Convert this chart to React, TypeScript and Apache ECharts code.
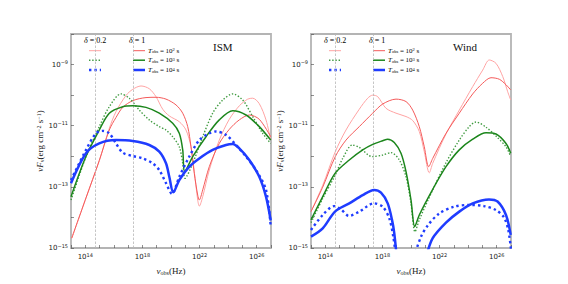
import React, { useEffect, useRef } from 'react';
import * as echarts from 'echarts';

// All values are log10 exponents: [log10(nu_obs / Hz), log10(nuF_nu / erg cm^-2 s^-1)]
const panelTitles = ['ISM', 'Wind'];
const deltaLabels = ['0.2', '1'];
const deltaLines = [14.7, 17.36];
const tobsExponents = [2, 3, 4];
const xTickLabels = [14, 18, 22, 26];
const yTickLabels = [-15, -13, -11, -9];

// ---------- ISM ----------
const ismRedD02 = [
  [13.05, -14.68], [14.05, -13.36], [14.98, -12.14], [15.68, -11.09], [16.15, -10.54], [16.85, -10.01],
  [17.32, -9.81], [17.9, -9.7], [18.48, -9.79], [18.95, -10.05], [19.42, -10.46], [19.88, -10.68],
  [20.58, -10.87], [21.05, -11.14], [21.4, -11.69], [21.63, -12.5], [21.87, -13.43], [21.98, -13.63],
  [22.22, -13.32], [22.68, -12.45], [23.38, -11.47], [24.08, -10.79], [24.78, -10.35], [25.37, -10.13],
  [25.72, -10.1], [26.18, -10.28], [26.65, -10.81], [26.98, -11.47],
];
const ismRedD1 = [
  [13.05, -14.68], [14.05, -13.36], [14.98, -12.14], [15.68, -11.14], [16.15, -10.73], [16.62, -10.4],
  [17.32, -10.18], [18.25, -10.08], [18.95, -10.07], [19.65, -10.13], [20.35, -10.32], [20.82, -10.59],
  [21.17, -11.03], [21.4, -11.69], [21.63, -12.56], [21.87, -13.27], [21.98, -13.43], [22.22, -13.1],
  [22.68, -12.34], [23.38, -11.58], [24.08, -11.12], [24.78, -10.81], [25.48, -10.65], [26.18, -10.79],
  [26.98, -11.36],
];
const ismGreenD02 = [
  [13.0, -13.43], [14.05, -12.01], [14.98, -11.03], [15.68, -10.38], [16.5, -9.96], [17.08, -10.1],
  [17.78, -10.49], [18.48, -10.81], [19.18, -11.03], [19.65, -11.14], [20.12, -11.36], [20.58, -11.69],
  [20.82, -12.23], [20.98, -12.72], [21.52, -12.23], [22.22, -11.36], [22.92, -10.59], [23.62, -10.16],
  [24.32, -9.96], [25.02, -10.16], [25.72, -10.7], [26.42, -11.25], [26.98, -11.58],
];
const ismGreenD1 = [
  [13.0, -13.32], [14.05, -12.0], [14.98, -11.14], [15.68, -10.59], [16.62, -10.38], [17.32, -10.35],
  [18.25, -10.4], [19.18, -10.59], [20.12, -10.92], [20.58, -11.25], [20.82, -11.79], [20.96, -12.5],
  [21.52, -12.01], [22.45, -11.36], [23.38, -10.81], [24.32, -10.51], [25.25, -10.65], [26.18, -11.03],
  [26.98, -11.47],
];
const ismBlueD02 = [
  [13.0, -12.78], [14.05, -11.79], [14.75, -11.25], [15.22, -11.17], [15.68, -11.25], [16.15, -11.58],
  [16.62, -11.88], [17.32, -11.99], [18.02, -12.07], [18.72, -12.23], [19.18, -12.45], [19.65, -12.88],
  [20.07, -13.23], [20.58, -12.67], [21.28, -12.01], [21.98, -11.47], [22.68, -11.25], [23.15, -11.19],
  [23.85, -11.3], [24.55, -11.63], [25.25, -12.01], [25.95, -12.45], [26.65, -13.1], [26.98, -14.3],
];
const ismBlueD1 = [
  [13.0, -12.88], [14.05, -11.9], [14.98, -11.58], [16.15, -11.47], [17.32, -11.5], [18.48, -11.63],
  [19.18, -11.85], [19.65, -12.23], [19.88, -12.67], [20.16, -13.18], [20.58, -12.78], [21.28, -12.34],
  [21.98, -12.07], [22.92, -11.79], [23.85, -11.63], [24.32, -11.6], [24.78, -11.74], [25.48, -12.12],
  [26.18, -12.67], [26.65, -13.32], [26.98, -14.1],
];

// ---------- Wind ----------
const windRedD02 = [
  [13.0, -13.81], [13.82, -12.95], [14.7, -11.85], [15.45, -11.14], [16.38, -10.46], [16.97, -10.1],
  [17.32, -10.0], [17.67, -10.05], [18.25, -10.43], [18.95, -10.59], [19.65, -10.7], [20.12, -10.83],
  [20.58, -11.19], [20.93, -11.85], [21.28, -12.54], [21.52, -12.23], [22.45, -11.27], [23.38, -10.49],
  [24.32, -9.72], [25.02, -9.18], [25.48, -8.85], [25.95, -8.96], [26.42, -9.39], [26.77, -9.89],
  [26.98, -10.16],
];
const windRedD1 = [
  [13.0, -13.81], [13.82, -13.01], [14.7, -12.01], [15.45, -11.47], [16.38, -11.03], [17.32, -10.59],
  [18.02, -10.29], [18.95, -10.13], [19.65, -10.21], [20.12, -10.49], [20.58, -11.03], [20.93, -11.69],
  [21.24, -12.34], [21.52, -12.07], [22.45, -11.25], [23.38, -10.59], [24.32, -9.96], [25.02, -9.61],
  [25.6, -9.43], [26.18, -9.48], [26.65, -9.66], [26.98, -9.83],
];
const windGreenD02 = [
  [13.0, -14.17], [13.82, -13.38], [14.7, -12.61], [15.22, -12.07], [15.89, -11.63], [16.38, -11.71],
  [17.29, -12.01], [18.02, -11.96], [18.6, -11.88], [19.18, -12.12], [19.65, -12.67], [20.0, -13.54],
  [20.28, -14.47], [20.58, -14.08], [21.52, -13.1], [22.45, -12.21], [23.38, -11.47], [24.08, -11.03],
  [24.55, -10.88], [25.25, -11.05], [25.95, -11.34], [26.65, -11.69], [26.98, -12.01],
];
const windGreenD1 = [
  [13.0, -14.08], [13.82, -13.32], [14.68, -12.56], [15.68, -12.12], [16.62, -11.79], [17.32, -11.61],
  [18.02, -11.49], [18.37, -11.44], [18.83, -11.55], [19.3, -11.9], [19.65, -12.5], [20.0, -13.43],
  [20.26, -14.3], [20.58, -13.92], [21.52, -13.08], [22.45, -12.34], [23.38, -11.79], [24.32, -11.44],
  [25.25, -11.23], [25.95, -11.27], [26.65, -11.58], [26.98, -11.9],
];
const windBlueD02 = [
  [13.0, -14.41], [13.82, -13.92], [14.61, -13.63], [15.1, -13.74], [15.66, -13.95], [16.38, -13.81],
  [17.41, -13.54], [18.02, -13.65], [18.48, -14.03], [18.76, -14.63], [18.95, -15.3], [19.6, '-'],
  [20.2, -15.3], [20.7, -14.63], [21.19, -14.25], [21.98, -13.87], [23.01, -13.65], [24.08, -13.59],
  [25.11, -13.63], [25.95, -13.76], [26.51, -14.0], [26.81, -14.41], [27.0, -15.05],
];
const windBlueD1 = [
  [13.0, -14.63], [13.82, -14.36], [14.68, -13.81], [15.68, -13.54], [16.62, -13.27], [17.41, -13.1],
  [17.9, -13.19], [18.37, -13.54], [18.67, -14.08], [18.83, -14.52], [19.0, -15.3], [20.0, '-'],
  [21.05, -15.3], [21.52, -14.68], [22.45, -14.17], [23.38, -13.81], [24.32, -13.54], [25.46, -13.41],
  [26.06, -13.48], [26.65, -13.92], [26.98, -14.57],
];

const panelData = [
  [ismRedD02, ismRedD1, ismGreenD02, ismGreenD1, ismBlueD02, ismBlueD1],
  [windRedD02, windRedD1, windGreenD02, windGreenD1, windBlueD02, windBlueD1],
];

const lineStyles = [
  { color: '#ffa3a3', width: 1, type: 'solid' },
  { color: '#f45a5a', width: 1, type: 'solid' },
  { color: '#3f9a3f', width: 1.4, type: [1.4, 1.8] },
  { color: '#1c861c', width: 1.5, type: 'solid' },
  { color: '#1f3cff', width: 2.4, type: [2.4, 3] },
  { color: '#1f3cff', width: 2.5, type: 'solid' },
];

const SERIF = 'Liberation Serif, DejaVu Serif, serif';
const SANS = 'DejaVu Sans, sans-serif';

export default function App() {
  const ref = useRef<HTMLDivElement>(null);
  useEffect(() => {
    if (!ref.current) return;
    const chart = echarts.init(ref.current, undefined, { renderer: 'svg' });
    const gridLefts = [71, 311];
    const tickRich = {
      sup: { fontSize: 5, verticalAlign: 'top', lineHeight: 6, fontFamily: SANS, color: '#222' },
    };
    const nameRich = {
      it: { fontStyle: 'italic', fontFamily: SERIF, fontSize: 9, color: '#222' },
      n: { fontFamily: SERIF, fontSize: 9, color: '#222' },
      sub: { fontStyle: 'normal', fontFamily: SERIF, fontSize: 6, verticalAlign: 'bottom', lineHeight: 7, color: '#222' },
      sup: { fontFamily: SERIF, fontSize: 6, verticalAlign: 'top', lineHeight: 7, color: '#222' },
    };

    const grids = gridLefts.map((l) => ({
      left: l, top: 34, width: 200, height: 214,
      show: true, borderColor: '#b4b4b4', borderWidth: 1.8, backgroundColor: 'transparent',
    }));
    const xAxes = gridLefts.map((_, i) => ({
      type: 'value', gridIndex: i, min: 13, max: 27, interval: 1,
      axisLine: { show: false },
      splitLine: { show: false },
      axisTick: { show: true, inside: true, length: 3, lineStyle: { color: '#444', width: 0.6 } },
      axisLabel: {
        margin: 4, fontSize: 7, fontFamily: SANS, color: '#222', lineHeight: 10,
        formatter: (v: number) => (xTickLabels.includes(Math.round(v)) ? `10{sup|${Math.round(v)}}` : ''),
        rich: tickRich,
      },
      name: '{it|ν}{sub|obs}{n|(Hz)}',
      nameLocation: 'middle', nameGap: 12,
      nameTextStyle: { rich: nameRich },
    }));
    const yAxes = gridLefts.map((_, i) => ({
      type: 'value', gridIndex: i, min: -15, max: -8, interval: 1,
      axisLine: { show: false },
      splitLine: { show: false },
      axisTick: { show: true, inside: true, length: 3, lineStyle: { color: '#444', width: 0.6 } },
      axisLabel: {
        margin: 3, fontSize: 7, fontFamily: SANS, color: '#222', lineHeight: 10,
        formatter: (v: number) => (yTickLabels.includes(Math.round(v)) ? `10{sup|−${-Math.round(v)}}` : ''),
        rich: tickRich,
      },
      name: '{it|νF}{sub|ν}{n|(erg cm}{sup|−2}{n| s}{sup|−1}{n|)}',
      nameLocation: 'middle', nameGap: 22, nameRotate: 90,
      nameTextStyle: { rich: nameRich },
    }));

    const series: any[] = [];
    panelData.forEach((curves, p) => {
      curves.forEach((data, k) => {
        const st = lineStyles[k];
        series.push({
          type: 'line', xAxisIndex: p, yAxisIndex: p, data,
          showSymbol: false, symbol: 'none', smooth: 0.3, clip: true,
          connectNulls: false, silent: true, z: 2 + k,
          lineStyle: { color: st.color, width: st.width, type: st.type },
        });
      });
      series.push({
        type: 'line', xAxisIndex: p, yAxisIndex: p, data: [], silent: true, z: 1,
        markLine: {
          silent: true, symbol: 'none', label: { show: false },
          lineStyle: { color: '#b8b8b8', width: 0.8, type: [2.5, 1.5] },
          data: deltaLines.map((x) => ({ xAxis: x })),
        },
      });
    });

    const graphics: any[] = [];
    const legendRich = {
      it: { fontStyle: 'italic', fontFamily: SERIF, fontSize: 7, color: '#222' },
      n: { fontFamily: SERIF, fontSize: 7, color: '#222' },
      sub: { fontFamily: SERIF, fontSize: 4.5, verticalAlign: 'bottom', lineHeight: 5, color: '#222' },
      sup: { fontFamily: SERIF, fontSize: 4.5, verticalAlign: 'top', lineHeight: 5, color: '#222' },
    };
    const deltaRich = {
      it: { fontStyle: 'italic', fontFamily: SERIF, fontSize: 8, color: '#222' },
      n: { fontFamily: SERIF, fontSize: 8, color: '#222' },
    };
    const rowsY = [50.7, 60.2, 70];
    [0, 1].forEach((p) => {
      const dx = p * 240;
      graphics.push({
        type: 'text', left: 84 + dx, top: 36, silent: true,
        style: { text: `{it|δ}{n| = ${deltaLabels[0]}}`, rich: deltaRich },
      });
      graphics.push({
        type: 'text', left: 129 + dx, top: 36, silent: true,
        style: { text: `{it|δ}{n| = ${deltaLabels[1]}}`, rich: deltaRich },
      });
      tobsExponents.forEach((e, r) => {
        const a = lineStyles[r * 2];
        const b = lineStyles[r * 2 + 1];
        const y = rowsY[r];
        graphics.push({
          type: 'line', silent: true,
          shape: { x1: 89 + dx, y1: y, x2: 101 + dx, y2: y },
          style: { stroke: a.color, lineWidth: a.width, lineDash: Array.isArray(a.type) ? a.type : null },
        });
        graphics.push({
          type: 'line', silent: true,
          shape: { x1: 133 + dx, y1: y, x2: 145 + dx, y2: y },
          style: { stroke: b.color, lineWidth: b.width, lineDash: Array.isArray(b.type) ? b.type : null },
        });
        graphics.push({
          type: 'text', x: 148 + dx, y: y, silent: true,
          style: {
            text: `{it|T}{sub|obs}{n| = 10}{sup|${e}}{n| s}`, rich: legendRich,
            verticalAlign: 'middle', align: 'left',
          },
        });
      });
      graphics.push({
        type: 'text', x: 213 + dx, y: 46.5, silent: true,
        style: { text: panelTitles[p], fontFamily: SERIF, fontSize: 11, fill: '#111', verticalAlign: 'middle', align: 'left' },
      });
    });

    chart.setOption({
      animation: false,
      backgroundColor: '#fff',
      grid: grids,
      xAxis: xAxes,
      yAxis: yAxes,
      series,
      graphic: graphics,
    });
    return () => chart.dispose();
  }, []);
  return <div ref={ref} style={{ position: 'fixed', left: 0, top: 0, width: 568, height: 284 }} />;
}
